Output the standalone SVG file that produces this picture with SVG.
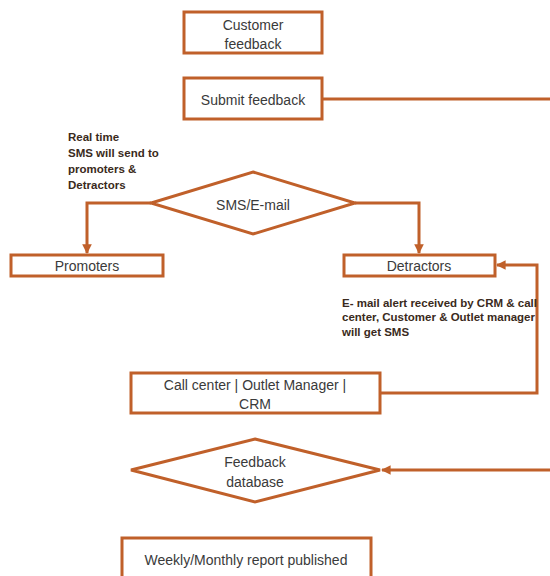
<svg xmlns="http://www.w3.org/2000/svg" width="550" height="576" viewBox="0 0 550 576">
<style>
.box{fill:#fff;stroke:#C0602A;stroke-width:3}
.ln{fill:none;stroke:#C0602A;stroke-width:3}
.t{font-family:"Liberation Sans",Arial,sans-serif;font-size:14px;fill:#3a3a3a;text-anchor:middle}
.b{font-family:"Liberation Sans",Arial,sans-serif;font-size:11.5px;font-weight:bold;fill:#3a2a20}
</style>
<defs>
<marker id="ah" viewBox="0 0 10 10" refX="9" refY="5" markerWidth="3.2" markerHeight="3.2" orient="auto" markerUnits="strokeWidth">
<path d="M0,0 L10,5 L0,10 z" fill="#C0602A"/>
</marker>
</defs>
<rect width="550" height="576" fill="#fff"/>
<g id="connectors">
<polyline class="ln" points="323,99 550,99"/>
<polyline class="ln" points="151,203 87,203 87,253" marker-end="url(#ah)"/>
<polyline class="ln" points="355,203 419,203 419,253" marker-end="url(#ah)"/>
<polyline class="ln" points="380,393 537,393 537,265 497,265" marker-end="url(#ah)"/>
<polyline class="ln" points="550,470 382,470" marker-end="url(#ah)"/>
</g>
<g id="customer-feedback">
<rect class="box" x="184" y="12" width="138" height="41"/>
<text class="t" x="253" y="30">Customer</text>
<text class="t" x="253" y="49">feedback</text>
</g>
<g id="submit-feedback">
<rect class="box" x="184" y="78" width="138" height="41"/>
<text class="t" x="253" y="105">Submit feedback</text>
</g>
<g id="note-realtime">
<text class="b" x="68" y="141">Real time</text>
<text class="b" x="68" y="157">SMS will send to</text>
<text class="b" x="68" y="173">promoters &amp;</text>
<text class="b" x="68" y="189">Detractors</text>
</g>
<g id="sms-email">
<polygon class="box" points="253,172 355,203 253,234 151,203"/>
<text class="t" x="253" y="210">SMS/E-mail</text>
</g>
<g id="promoters">
<rect class="box" x="11" y="255" width="152" height="21"/>
<text class="t" x="87" y="271">Promoters</text>
</g>
<g id="detractors">
<rect class="box" x="344" y="255" width="151" height="21"/>
<text class="t" x="419" y="271">Detractors</text>
</g>
<g id="note-email">
<text class="b" x="342" y="307">E- mail alert received by CRM &amp; call</text>
<text class="b" x="342" y="321">center, Customer &amp; Outlet manager</text>
<text class="b" x="342" y="336">will get SMS</text>
</g>
<g id="call-center">
<rect class="box" x="131" y="373" width="249" height="40"/>
<text class="t" x="255" y="390">Call center | Outlet Manager |</text>
<text class="t" x="255" y="409">CRM</text>
</g>
<g id="feedback-database">
<polygon class="box" points="255,439 380,470 255,502 131,470"/>
<text class="t" x="255" y="467">Feedback</text>
<text class="t" x="255" y="487">database</text>
</g>
<g id="report">
<rect class="box" x="122" y="538" width="249" height="45"/>
<text class="t" x="246" y="565">Weekly/Monthly report published</text>
</g>
</svg>
